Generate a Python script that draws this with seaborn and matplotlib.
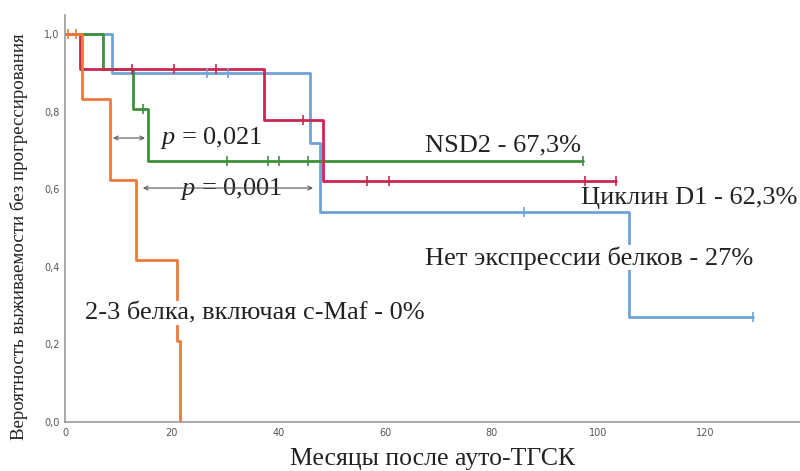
import numpy as np
import pandas as pd
import matplotlib
matplotlib.use("Agg")
import matplotlib.pyplot as plt
import seaborn as sns

# ---- data ----
groups = ["Нет экспрессии белков", "NSD2", "Циклин D1", "2-3 белка, включая c-Maf"]
colors = ["#6fa3d8", "#3e8f3a", "#c8284f", "#ec7a3c"]

blue_t = [0, 8.8, 45.9, 47.8, 105.8, 128.9]
blue_s = [1.0, 0.900, 0.720, 0.540, 0.270, 0.270]
blue_ct = [26.6, 30.5, 86.0, 128.9]
blue_cs = [0.900, 0.900, 0.540, 0.270]

green_t = [0, 7.2, 12.7, 15.5, 97.2]
green_s = [1.0, 0.909, 0.807, 0.673, 0.673]
green_ct = [14.6, 30.3, 38.0, 40.2, 45.6, 97.2]
green_cs = [0.807, 0.673, 0.673, 0.673, 0.673, 0.673]

red_t = [0, 2.9, 37.3, 48.4, 103.3]
red_s = [1.0, 0.909, 0.778, 0.622, 0.622]
red_ct = [12.6, 20.5, 28.3, 44.7, 56.7, 60.8, 97.4, 103.3]
red_cs = [0.909, 0.909, 0.909, 0.778, 0.622, 0.622, 0.622, 0.622]

orange_t = [0, 3.1, 8.5, 13.3, 21.0, 21.6]
orange_s = [1.0, 0.833, 0.625, 0.417, 0.208, 0.0]
orange_ct = [0.6, 2.0]
orange_cs = [1.0, 1.0]

x_ticks = [0, 20, 40, 60, 80, 100, 120]
y_ticks = [0.0, 0.2, 0.4, 0.6, 0.8, 1.0]
y_tick_labels = ["0,0", "0,2", "0,4", "0,6", "0,8", "1,0"]

labels = ["NSD2 - 67,3%", "Циклин D1 - 62,3%", "Нет экспрессии белков - 27%",
          "2-3 белка, включая c-Maf - 0%"]
p_labels = ["0,021", "0,001"]

# ---- build tables ----
curves = pd.concat([
    pd.DataFrame({"t": t, "s": s, "g": g})
    for g, t, s in zip(groups, [blue_t, green_t, red_t, orange_t],
                       [blue_s, green_s, red_s, orange_s])
], ignore_index=True)
cens = pd.concat([
    pd.DataFrame({"t": t, "s": s, "g": g})
    for g, t, s in zip(groups, [blue_ct, green_ct, red_ct, orange_ct],
                       [blue_cs, green_cs, red_cs, orange_cs])
], ignore_index=True)

palette = dict(zip(groups, colors))

sns.set_style("white")
plt.rcParams["font.family"] = ["Liberation Serif", "DejaVu Serif"]
plt.rcParams["mathtext.fontset"] = "custom"
plt.rcParams["mathtext.it"] = "Liberation Serif:italic"
plt.rcParams["mathtext.rm"] = "Liberation Serif"

fig = plt.figure(figsize=(8.0, 4.71), dpi=100)
ax = fig.add_axes([65 / 800, 49 / 471, 735 / 800, 407 / 471])

for g in groups:
    sub = curves[curves.g == g]
    sns.lineplot(data=sub, x="t", y="s", color=palette[g], drawstyle="steps-post",
                 linewidth=2.0, ax=ax, legend=False, estimator=None, sort=False)
    csub = cens[cens.g == g]
    sns.scatterplot(data=csub, x="t", y="s", color=palette[g], marker="|", s=45,
                    linewidth=1.2, ax=ax, legend=False, zorder=3)

ax.set_xlim(0, 137.8)
ax.set_ylim(0, 1.049)
ax.set_xticks(x_ticks)
ax.set_xticklabels([str(v) for v in x_ticks])
ax.set_yticks(y_ticks)
ax.set_yticklabels(y_tick_labels)
ax.tick_params(axis="both", length=0, labelsize=7, labelcolor="#555555", pad=4)
for lab in ax.get_xticklabels() + ax.get_yticklabels():
    lab.set_family("DejaVu Sans")
for side in ["top", "right"]:
    ax.spines[side].set_visible(False)
for side in ["left", "bottom"]:
    ax.spines[side].set_color("#999999")
    ax.spines[side].set_linewidth(1.2)

ax.set_xlabel("Месяцы после ауто-ТГСК", fontsize=18.5, color="#222222")
ax.xaxis.set_label_coords(0.5, -0.064)
ax.set_ylabel("Вероятность выживаемости без прогрессирования", fontsize=13.6,
              color="#222222")
ax.yaxis.set_label_coords(-0.051, 0.455)

# text annotations
tc = "#222222"
fs = 19
bb = dict(facecolor="white", edgecolor="none", pad=0.5)
ax.text(67.5, 0.712, labels[0], fontsize=fs, color=tc, ha="left", va="center", zorder=5)
ax.text(96.8, 0.577, labels[1], fontsize=fs, color=tc, ha="left", va="center", zorder=5)
ax.text(67.5, 0.423, labels[2], fontsize=fs, color=tc, ha="left", va="center",
        bbox=bb, zorder=5)
ax.text(3.7, 0.281, labels[3], fontsize=fs, color=tc, ha="left", va="center",
        bbox=bb, zorder=5)

ax.text(17.8, 0.733, "$p$ = " + p_labels[0], fontsize=fs, color=tc, ha="left", va="center")
ax.text(21.5, 0.600, "$p$ = " + p_labels[1], fontsize=fs, color=tc, ha="left", va="center")

arrow_kw = dict(arrowstyle="<->", color="#555555", lw=0.8, mutation_scale=7,
                shrinkA=0, shrinkB=0)
ax.annotate("", xy=(9.0, 0.732), xytext=(15.0, 0.732), arrowprops=arrow_kw)
ax.annotate("", xy=(14.6, 0.603), xytext=(46.5, 0.603), arrowprops=arrow_kw)

fig.savefig("out.png", dpi=100)
